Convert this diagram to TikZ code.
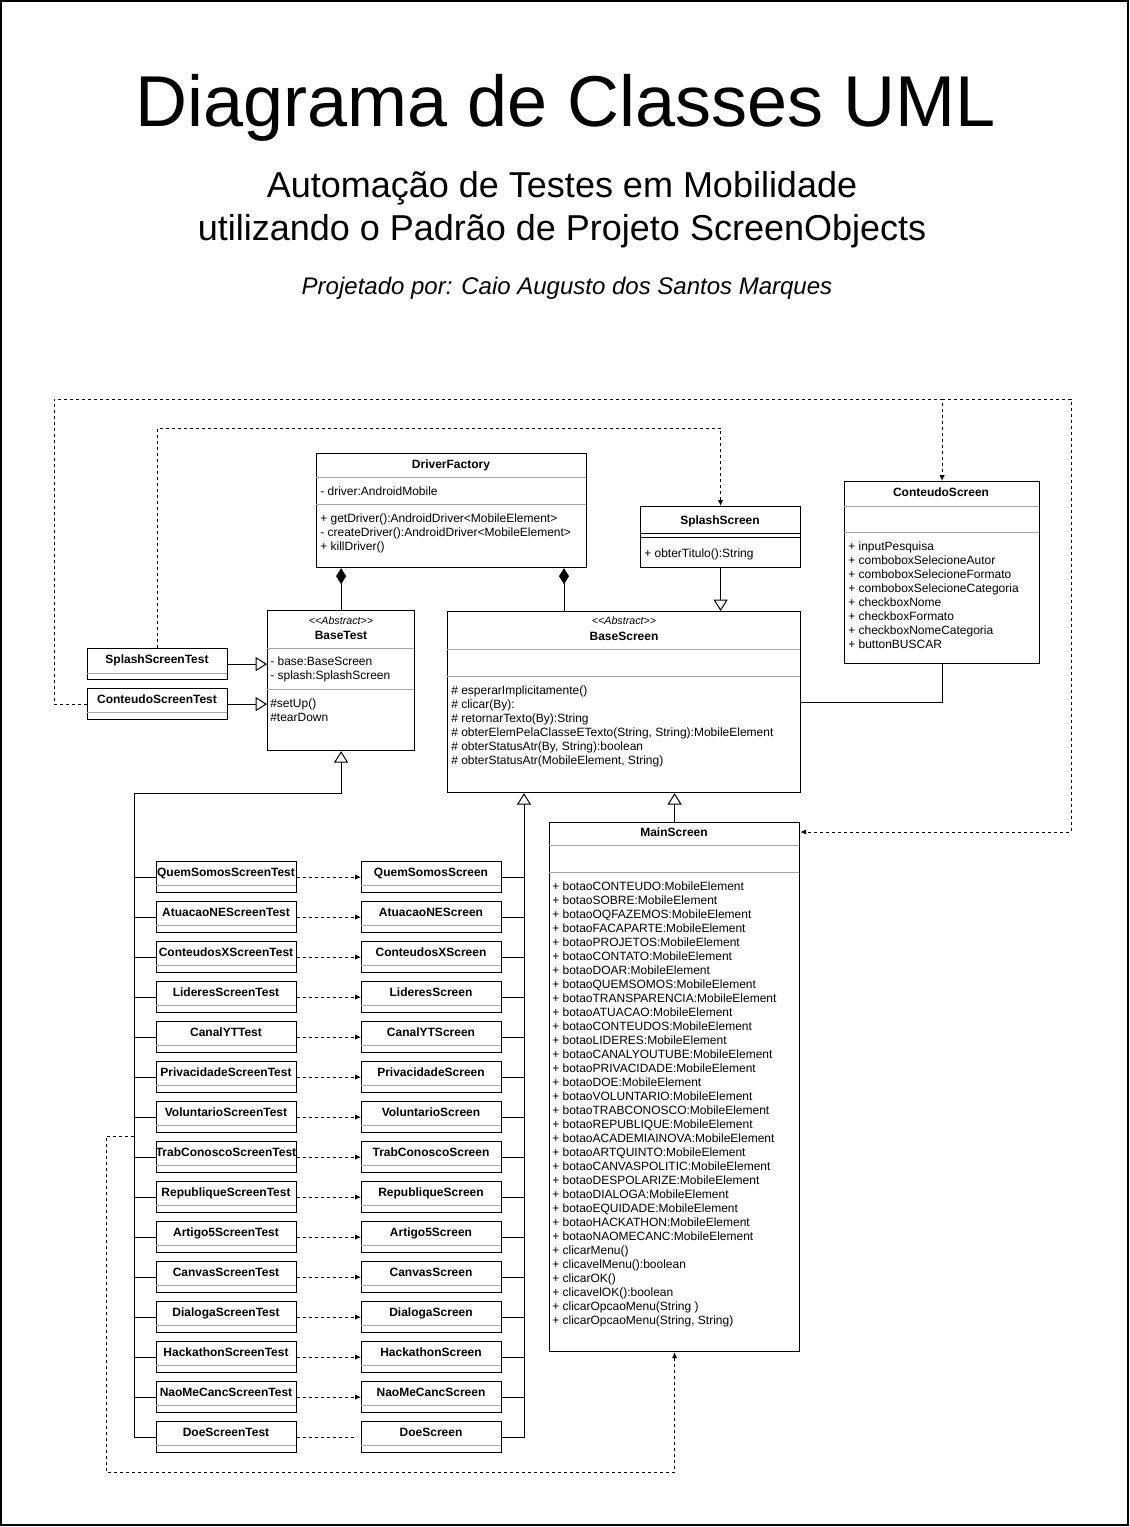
\documentclass[tikz,border=0pt]{standalone}
\usepackage{fontspec}
\setmainfont{Liberation Sans}
\usepackage{tikz}
\usetikzlibrary{arrows.meta}
\usetikzlibrary{calc}
\newcommand{\unitpx}{0.75pt}

\begin{document}
\begin{tikzpicture}[x=0.75pt, y=-0.75pt]
    \tikzstyle{classbox}=[draw, line width=.9pt, inner sep=0, anchor=north west, fill=white]
    \tikzstyle{member}=[anchor=base west, inner sep=0, font=\fontsize{9}{10.5}\selectfont]
    \tikzstyle{classname}=[anchor=base, inner sep=0, font=\bfseries\fontsize{9}{10.5}\selectfont]
    \tikzstyle{stereo}=[anchor=base, inner sep=0, font=\itshape\fontsize{8}{9}\selectfont]
    \tikzstyle{divider}=[draw=gray!70, line width=.75pt]
    \tikzstyle{edge}=[draw, line width=.75pt, black]
    \tikzstyle{inherit}=[edge, -{Triangle[open, length=8.5pt, width=10.5pt]}]
    \tikzstyle{compose}=[edge, {Diamond[length=12pt, width=7.5pt]}-]
    \tikzstyle{uses}=[edge, dash pattern=on 2.25pt off 2.25pt, -{Latex[length=4.5pt, width=4pt]}]

    \useasboundingbox (0,0) rectangle (1130,1527);
    \draw[line width=1.2pt] (1,1) rectangle (1128,1525);

    % titulo
    \node[anchor=base, font=\fontsize{54}{60}\selectfont] (title) at (566,127) {Diagrama de Classes UML};
    \node[anchor=base, font=\fontsize{27}{32}\selectfont] (sub1) at (562,197) {Automação de Testes em Mobilidade};
    \node[anchor=base, font=\fontsize{27}{32}\selectfont] (sub2) at (562,240) {utilizando o Padrão de Projeto ScreenObjects};
    \node[anchor=base, font=\itshape\fontsize{18}{22}\selectfont] (author) at (567,294) {Projetado por: Caio Augusto dos Santos Marques};

    % DriverFactory
    \node[classbox, minimum width=270*\unitpx, minimum height=114*\unitpx] (df) at (316,453) {};
    \node[classname] (df-name) at (451,468) {DriverFactory};
    \draw[divider] (316,477) -- (586,477);
    \node[member] (df-a1) at (320,495) {- driver:AndroidMobile};
    \draw[divider] (316,504) -- (586,504);
    \node[member] (df-m1) at (320,522) {+ getDriver():AndroidDriver<MobileElement>};
    \node[member] (df-m2) at (320,536) {- createDriver():AndroidDriver<MobileElement>};
    \node[member] (df-m3) at (320,550) {+ killDriver()};

    % SplashScreen
    \node[classbox, minimum width=160*\unitpx, minimum height=61*\unitpx] (ss) at (640,506) {};
    \node[classname] (ss-name) at (720,524) {SplashScreen};
    \draw[edge] (640,533) -- (800,533);
    \draw[edge] (640,537) -- (800,537);
    \node[member] (ss-m1) at (644,557) {+ obterTitulo():String};

    % ConteudoScreen
    \node[classbox, minimum width=195*\unitpx, minimum height=182*\unitpx] (cs) at (844,481) {};
    \node[classname] (cs-name) at (941,496) {ConteudoScreen};
    \draw[divider] (844,506) -- (1039,506);
    \draw[divider] (844,532) -- (1039,532);
    \foreach \m [count=\i from 0] in {+ inputPesquisa, + comboboxSelecioneAutor, + comboboxSelecioneFormato,
        + comboboxSelecioneCategoria, + checkboxNome, + checkboxFormato, + checkboxNomeCategoria, + buttonBUSCAR}
        \node[member] (cs-a\i) at (848,{550+14*\i}) {\m};

    % BaseTest
    \node[classbox, minimum width=147*\unitpx, minimum height=140*\unitpx] (bt) at (267,610) {};
    \node[stereo] (bt-st) at (341,624) {<{}<Abstract>{}>};
    \node[classname] (bt-name) at (341,639) {BaseTest};
    \draw[divider] (267,648) -- (414,648);
    \node[member] (bt-a1) at (270,665) {- base:BaseScreen};
    \node[member] (bt-a2) at (270,679) {- splash:SplashScreen};
    \draw[divider] (267,689) -- (414,689);
    \node[member] (bt-m1) at (270,707) {\#setUp()};
    \node[member] (bt-m2) at (270,721) {\#tearDown};

    % BaseScreen
    \node[classbox, minimum width=353*\unitpx, minimum height=181*\unitpx] (bs) at (447,611) {};
    \node[stereo] (bs-st) at (624,624) {<{}<Abstract>{}>};
    \node[classname] (bs-name) at (624,640) {BaseScreen};
    \draw[divider] (447,649) -- (800,649);
    \draw[divider] (447,676) -- (800,676);
    \foreach \m [count=\i from 0] in {\# esperarImplicitamente(), \# clicar(By):, \# retornarTexto(By):String,
        {\# obterElemPelaClasseETexto(String, String):MobileElement}, {\# obterStatusAtr(By, String):boolean},
        {\# obterStatusAtr(MobileElement, String)}}
        \node[member] (bs-m\i) at (451,{694+14*\i}) {\m};

    % SplashScreenTest e ConteudoScreenTest
    \node[classbox, minimum width=140*\unitpx, minimum height=31*\unitpx] (sst) at (87,648) {};
    \node[classname] (sst-name) at (157,663) {SplashScreenTest};
    \draw[divider] (87,673) -- (227,673);
    \node[classbox, minimum width=140*\unitpx, minimum height=31*\unitpx] (cst) at (87,688) {};
    \node[classname] (cst-name) at (157,703) {ConteudoScreenTest};
    \draw[divider] (87,712) -- (227,712);

    % MainScreen
    \node[classbox, minimum width=250*\unitpx, minimum height=529*\unitpx] (ms) at (549,822) {};
    \node[classname] (ms-name) at (674,836) {MainScreen};
    \draw[divider] (549,845) -- (799,845);
    \draw[divider] (549,872) -- (799,872);
    \foreach \b [count=\i from 0] in {CONTEUDO, SOBRE, OQFAZEMOS, FACAPARTE, PROJETOS, CONTATO, DOAR, QUEMSOMOS,
        TRANSPARENCIA, ATUACAO, CONTEUDOS, LIDERES, CANALYOUTUBE, PRIVACIDADE, DOE, VOLUNTARIO, TRABCONOSCO,
        REPUBLIQUE, ACADEMIAINOVA, ARTQUINTO, CANVASPOLITIC, DESPOLARIZE, DIALOGA, EQUIDADE, HACKATHON, NAOMECANC}
        \node[member] (ms-a\i) at (552,{890+14*\i}) {+ botao\b:MobileElement};
    \foreach \m [count=\i from 26] in {+ clicarMenu(), + clicavelMenu():boolean, + clicarOK(), + clicavelOK():boolean,
        + clicarOpcaoMenu(String ), {+ clicarOpcaoMenu(String, String)}}
        \node[member] (ms-m\i) at (552,{890+14*\i}) {\m};

    % telas e testes
    \foreach \tname/\sname [count=\i from 0] in {QuemSomosScreenTest/QuemSomosScreen, AtuacaoNEScreenTest/AtuacaoNEScreen,
        ConteudosXScreenTest/ConteudosXScreen, LideresScreenTest/LideresScreen, CanalYTTest/CanalYTScreen,
        PrivacidadeScreenTest/PrivacidadeScreen, VoluntarioScreenTest/VoluntarioScreen,
        TrabConoscoScreenTest/TrabConoscoScreen, RepubliqueScreenTest/RepubliqueScreen, Artigo5ScreenTest/Artigo5Screen,
        CanvasScreenTest/CanvasScreen, DialogaScreenTest/DialogaScreen, HackathonScreenTest/HackathonScreen,
        NaoMeCancScreenTest/NaoMeCancScreen, DoeScreenTest/DoeScreen}{
        \pgfmathsetmacro{\ty}{861+40*\i}
        \node[classbox, minimum width=140*\unitpx, minimum height=31*\unitpx] (t\i) at (156,\ty) {};
        \node[classname] (t\i-name) at (226,{\ty+15}) {\tname};
        \draw[divider] (156,{\ty+24}) -- (296,{\ty+24});
        \node[classbox, minimum width=140*\unitpx, minimum height=31*\unitpx] (s\i) at (361,\ty) {};
        \node[classname] (s\i-name) at (431,{\ty+15}) {\sname};
        \draw[divider] (361,{\ty+24}) -- (501,{\ty+24});
    }

    % ligacoes
    \draw[compose] (bt.north |- df.south) -- (bt.north);
    \draw[compose] (df.south -| 564,0) -- (bs.north -| 564,0);
    \draw[inherit] (ss.south) -- (ss.south |- bs.north);
    \draw[inherit] (sst.east) -- (sst.east -| bt.west);
    \draw[inherit] (cst.east) -- (cst.east -| bt.west);
    \draw[inherit] (ms.north) -- (ms.north |- bs.south);
    \draw[edge] (cs.south) |- (bs.east);
    \draw[uses] (sst.north) -- (sst.north |- 0,428) -| (ss.north);
    \draw[uses] (cst.west) -- ++(-33,0) |- (cs.north |- 0,399) -- (cs.north);
    \coordinate (ms-in) at ($(ms.north east)+(0,10)$);
    \draw[uses] (cs.north |- 0,399) -- (1071,399) |- (ms-in);

    \draw[inherit] (t14.west) -| (134,793) -| (bt.south);
    \draw[inherit] (s14.east) -| (bs.south -| 524,0);
    \foreach \i in {0,...,13}{
        \draw[edge] (t\i.west) -- ++(-22,0);
        \draw[edge] (s\i.east) -- ++(23,0);
        \draw[uses] (t\i.east) -- (s\i.west);
    }
    \coordinate (doe-end) at ($(t14.east)+(57,0)$);
    \draw[edge, dash pattern=on 2.25pt off 2.25pt] (t14.east) -- (doe-end);

    \coordinate (bus-out) at (134,1136);
    \draw[uses] (bus-out) -- ++(-28,0) -- ++(0,336) -| (ms.south);
\end{tikzpicture}
\end{document}
